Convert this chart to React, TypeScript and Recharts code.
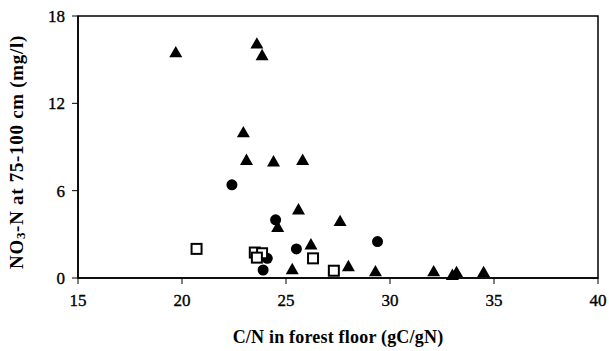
import { ScatterChart, Scatter, XAxis, YAxis, ReferenceArea } from 'recharts';

// C/N in forest floor vs NO3-N at 75-100 cm
const triangleCN = [19.7, 23.6, 23.85, 22.95, 23.1, 24.4, 25.8, 25.6, 27.6, 24.6, 26.2, 25.3, 28.0, 29.3, 32.1, 33.0, 33.2, 34.5];
const triangleNO3 = [15.5, 16.1, 15.3, 10.0, 8.1, 8.0, 8.1, 4.7, 3.9, 3.5, 2.3, 0.6, 0.8, 0.45, 0.45, 0.2, 0.4, 0.4];

const circleCN = [22.4, 24.5, 25.5, 29.4, 24.1, 23.9];
const circleNO3 = [6.4, 4.0, 2.0, 2.5, 1.35, 0.55];

const squareCN = [20.7, 23.5, 23.85, 23.6, 26.3, 27.3];
const squareNO3 = [2.0, 1.75, 1.7, 1.4, 1.35, 0.5];

const xTicks = [15, 20, 25, 30, 35, 40];
const yTicks = [0, 6, 12, 18];

const toPoints = (xs: number[], ys: number[]) => xs.map((x, i) => ({ x, y: ys[i] }));

const font = '"Liberation Serif", "Times New Roman", serif';

const Triangle = (props: any) => {
  const { cx, cy } = props;
  const s = 6.5;
  return <polygon points={`${cx},${cy - s} ${cx + s},${cy + s * 0.75} ${cx - s},${cy + s * 0.75}`} fill="#000" />;
};

const Dot = (props: any) => <circle cx={props.cx} cy={props.cy} r={5.5} fill="#000" />;

const Square = (props: any) => (
  <rect x={props.cx - 5} y={props.cy - 5} width={10} height={10} fill="#fff" stroke="#000" strokeWidth={2} />
);

const XTick = (props: any) => {
  const { x, y, payload } = props;
  return (
    <text x={x} y={y + 20} textAnchor="middle" fontFamily={font} fontSize={17} fill="#000" stroke="#000" strokeWidth={0.35}>
      {payload.value}
    </text>
  );
};

const YTick = (props: any) => {
  const { x, y, payload } = props;
  return (
    <text x={x - 5} y={y + 6} textAnchor="end" fontFamily={font} fontSize={17} fill="#000" stroke="#000" strokeWidth={0.35}>
      {payload.value}
    </text>
  );
};

const YTitle = (props: any) => {
  const { viewBox } = props;
  const cx = 16;
  const cy = viewBox.y + viewBox.height / 2 + 5;
  return (
    <text
      x={cx}
      y={cy}
      transform={`rotate(-90, ${cx}, ${cy})`}
      textAnchor="middle"
      dominantBaseline="central"
      fontFamily={font}
      fontWeight="bold"
      fontSize={19}
      letterSpacing={0.7}
      fill="#000"
    >
      NO<tspan fontSize={13} dy={4}>3</tspan><tspan dy={-4}>-N at 75-100 cm (mg/l)</tspan>
    </text>
  );
};

const XTitle = (props: any) => {
  const { viewBox } = props;
  const cx = viewBox.x + viewBox.width / 2;
  return (
    <text x={cx} y={343} textAnchor="middle" fontFamily={font} fontWeight="bold" fontSize={18} letterSpacing={0.2} fill="#000">
      C/N in forest floor (gC/gN)
    </text>
  );
};

export default function App() {
  return (
    <div style={{ position: 'absolute', left: 0, top: 0, background: '#fff' }}>
      <ScatterChart width={609} height={351} margin={{ top: 16, right: 11, bottom: 43, left: 18 }}>
        <XAxis
          type="number"
          dataKey="x"
          domain={[15, 40]}
          ticks={xTicks}
          tickSize={6}
          axisLine={{ stroke: '#000', strokeWidth: 1.5 }}
          tickLine={{ stroke: '#000' }}
          tick={<XTick />}
          height={30}
          label={<XTitle />}
        />
        <YAxis
          type="number"
          dataKey="y"
          domain={[0, 18]}
          ticks={yTicks}
          tickSize={6}
          width={60}
          axisLine={{ stroke: '#000', strokeWidth: 1.5 }}
          tickLine={{ stroke: '#000' }}
          tick={<YTick />}
          label={<YTitle />}
        />
        <ReferenceArea x1={15} x2={40} y1={0} y2={18} stroke="#000" strokeWidth={1.5} fill="none" fillOpacity={0} />
        <Scatter data={toPoints(triangleCN, triangleNO3)} shape={Triangle} isAnimationActive={false} />
        <Scatter data={toPoints(circleCN, circleNO3)} shape={Dot} isAnimationActive={false} />
        <Scatter data={toPoints(squareCN, squareNO3)} shape={Square} isAnimationActive={false} />
      </ScatterChart>
    </div>
  );
}
